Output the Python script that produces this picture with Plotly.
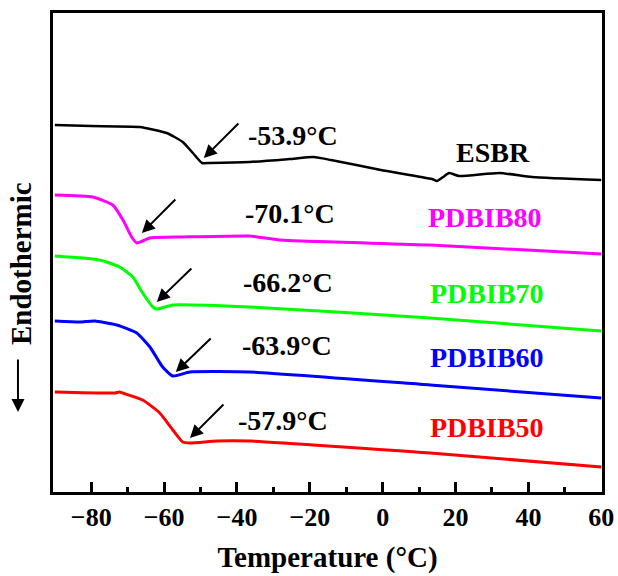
import plotly.graph_objects as go

# Temperature (°C) and heat flow (a.u.)
esbr_t = [-90.0, -80.0, -66.7, -59.3, -54.9, -52.1, -49.6, -47.4, -36.5, -25.5, -18.9, -14.2, -0.5, 13.5, 14.9, 16.6, 18.2, 21.0, 32.0, 41.0, 60.0]
esbr_v = [36.7, 36.6, 36.5, 35.9, 35.0, 33.9, 32.9, 32.9, 33.0, 33.3, 33.5, 33.2, 32.2, 31.3, 31.1, 31.5, 31.9, 31.6, 31.9, 31.5, 31.2]

p80_t = [-90.0, -79.6, -74.1, -71.3, -68.9, -67.5, -63.9, -54.9, -36.5, -28.2, 13.0, 60.0]
p80_v = [29.7, 29.5, 28.7, 27.2, 25.5, 24.9, 25.4, 25.5, 25.6, 25.2, 24.7, 23.8]

p70_t = [-90.0, -77.7, -72.2, -68.6, -65.9, -63.1, -62.0, -57.6, -36.5, 13.0, 60.0]
p70_v = [23.6, 23.2, 22.5, 21.5, 19.9, 18.5, 18.3, 18.7, 18.5, 17.4, 16.1]

p60_t = [-90.0, -83.2, -81.5, -79.0, -73.0, -67.5, -63.9, -60.4, -57.6, -52.9, -36.5, 13.0, 60.0]
p60_v = [17.1, 17.0, 17.05, 17.1, 16.7, 15.9, 14.5, 12.5, 11.6, 12.0, 12.0, 10.7, 9.4]

p50_t = [-90.0, -73.5, -72.3, -71.0, -65.9, -61.2, -57.6, -54.9, -52.9, -45.5, -36.5, 13.0, 60.0]
p50_v = [10.0, 9.9, 10.0, 9.85, 9.2, 7.9, 6.2, 5.0, 4.9, 5.1, 5.1, 3.9, 2.5]

names = ["ESBR", "PDBIB80", "PDBIB70", "PDBIB60", "PDBIB50"]
colors = ["#000000", "#FF00FF", "#00FF00", "#0000FF", "#FF0000"]
tg_labels = ["-53.9°C", "-70.1°C", "-66.2°C", "-63.9°C", "-57.9°C"]

# label positions (data coords)
tg_pos = [(-24.6, 35.7), (-25.5, 27.9), (-26.0, 21.0), (-26.3, 14.7), (-27.4, 7.2)]
name_pos = [(30.3, 34.0), (28.1, 27.5), (28.7, 19.9), (28.7, 13.5), (28.7, 6.5)]
# arrows: (head_t, head_v, tail_t, tail_v)
arrows = [(-49.1, 33.4, -39.2, 37.0), (-66.1, 25.9, -56.5, 29.4), (-62.0, 19.0, -52.1, 22.5),
          (-56.8, 12.0, -46.8, 15.5), (-52.9, 5.4, -43.3, 8.9)]

series = [(esbr_t, esbr_v), (p80_t, p80_v), (p70_t, p70_v), (p60_t, p60_v), (p50_t, p50_v)]

FONT = "Liberation Serif"
fig = go.Figure()
for (t, v), n, c in zip(series, names, colors):
    fig.add_trace(go.Scatter(x=t, y=v, mode="lines", name=n,
                             line=dict(color=c, width=3 if c != "#000000" else 2.5, shape="spline", smoothing=0.5)))

ann = []
for (tx, ty), lab in zip(tg_pos, tg_labels):
    ann.append(dict(x=tx, y=ty, text=lab, showarrow=False,
                    font=dict(family=FONT, size=28, color="black", weight="bold")))
for (tx, ty), n, c in zip(name_pos, names, colors):
    ann.append(dict(x=tx, y=ty, text=n, showarrow=False,
                    font=dict(family=FONT, size=28, color=c, weight="bold")))
for hx, hy, tx, ty in arrows:
    ann.append(dict(x=hx, y=hy, ax=tx, ay=ty, axref="x", ayref="y", text="",
                    showarrow=True, arrowhead=2, arrowsize=1.3, arrowwidth=2, arrowcolor="black"))
# y axis title with arrow
ann.append(dict(x=-0.0583, y=0.478, xref="paper", yref="paper", text="Endothermic",
                xanchor="center", yanchor="middle",
                textangle=-90, showarrow=False, font=dict(family=FONT, size=29, color="black", weight="bold")))
ann.append(dict(x=-0.0638, y=0.167, xref="paper", yref="paper", ax=0, ay=-54, text="",
                showarrow=True, arrowhead=2, arrowsize=1.3, arrowwidth=2, arrowcolor="black"))

fig.update_layout(
    width=618, height=576,
    margin=dict(l=53, r=16, t=13, b=84, autoexpand=False),
    plot_bgcolor="white", paper_bgcolor="white",
    showlegend=False,
    annotations=ann,
    xaxis=dict(range=[-90.5, 60.2], tickvals=[-80, -60, -40, -20, 0, 20, 40, 60], automargin=False,
               ticks="inside", ticklen=10, tickwidth=3, tickcolor="black",
               minor=dict(tickvals=[-70, -50, -30, -10, 10, 30, 50], ticks="inside", ticklen=5, tickwidth=3, tickcolor="black"),
               showline=True, linewidth=3, linecolor="black", mirror=True, showgrid=False, zeroline=False,
               tickfont=dict(family=FONT, size=26, color="black", weight="bold"),
               title=dict(text="Temperature (°C)", font=dict(family=FONT, size=29, color="black", weight="bold"), standoff=16)),
    yaxis=dict(range=[0, 47.9], showticklabels=False, ticks="", showline=True, linewidth=3, automargin=False,
               linecolor="black", mirror=True, showgrid=False, zeroline=False),
)
fig.write_html("out.html", config={"displayModeBar": False},
               post_script="document.body.style.margin='0';document.body.style.overflow='hidden';")
